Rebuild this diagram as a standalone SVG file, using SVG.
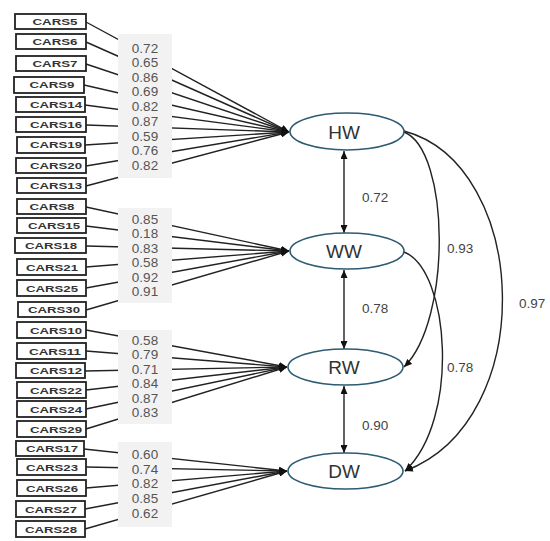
<svg xmlns="http://www.w3.org/2000/svg" width="550" height="541" viewBox="0 0 550 541">
<style>
.box{fill:#fff;stroke:#222;stroke-width:1.8}
.bt{font-family:"Liberation Sans",Arial,sans-serif;font-weight:bold;font-size:8.8px;fill:#333;text-anchor:middle}
.lp{fill:#f2f2f2;stroke:none}
.v{font-family:"Liberation Sans",Arial,sans-serif;font-size:13.5px;fill:#555;text-anchor:middle}
.c{font-family:"Liberation Sans",Arial,sans-serif;font-size:13.5px;fill:#444}
.ln{stroke:#222;stroke-width:1.4;fill:none}
.el{fill:#fff;stroke:#2d5b73;stroke-width:1.6}
.et{font-family:"Liberation Sans",Arial,sans-serif;font-size:19px;fill:#333;text-anchor:middle}
</style>
<defs>
<marker id="ah" markerUnits="userSpaceOnUse" markerWidth="8" markerHeight="7" refX="8" refY="3.5" orient="auto-start-reverse">
<path d="M0,0 L8,3.5 L0,7 z" fill="#111"/>
</marker>
</defs>
<rect width="550" height="541" fill="#fff"/>
<g id="connectors">
<g class="ln" marker-end="url(#ah)">
<line x1="86" y1="22" x2="289" y2="132"/>
<line x1="86" y1="42" x2="289" y2="132"/>
<line x1="86" y1="64" x2="289" y2="132"/>
<line x1="84" y1="85" x2="289" y2="132"/>
<line x1="85" y1="105" x2="289" y2="132"/>
<line x1="86" y1="125" x2="289" y2="132"/>
<line x1="85" y1="145" x2="289" y2="132"/>
<line x1="86" y1="166" x2="289" y2="132"/>
<line x1="86" y1="186" x2="289" y2="132"/>
<line x1="86" y1="207" x2="289" y2="251"/>
<line x1="86" y1="226" x2="289" y2="251"/>
<line x1="86" y1="246" x2="289" y2="251"/>
<line x1="86" y1="267" x2="289" y2="251"/>
<line x1="86" y1="288" x2="289" y2="251"/>
<line x1="86" y1="310" x2="289" y2="251"/>
<line x1="86" y1="330" x2="287" y2="367"/>
<line x1="86" y1="351" x2="287" y2="367"/>
<line x1="85" y1="371" x2="287" y2="367"/>
<line x1="86" y1="390" x2="287" y2="367"/>
<line x1="86" y1="409" x2="287" y2="367"/>
<line x1="86" y1="429" x2="287" y2="367"/>
<line x1="84" y1="449" x2="287" y2="471"/>
<line x1="86" y1="467" x2="287" y2="471"/>
<line x1="86" y1="488" x2="287" y2="471"/>
<line x1="85" y1="509" x2="287" y2="471"/>
<line x1="85" y1="529" x2="287" y2="471"/>
</g>
<g class="ln" marker-start="url(#ah)" marker-end="url(#ah)">
<line x1="344" y1="151" x2="344" y2="233"/>
<line x1="344" y1="270" x2="344" y2="349"/>
<line x1="344" y1="386" x2="344" y2="453"/>
</g>
<g class="ln" marker-end="url(#ah)">
<path d="M404,132 C450,150 452,320 404,367"/>
<path d="M404,252 C450,270 460,420 405,471"/>
<path d="M404,131 C530,165 540,420 405,471"/>
</g>
</g>
<g id="labels">
<rect class="lp" x="118" y="34" width="54" height="144"/>
<text class="v" x="145" y="53">0.72</text>
<text class="v" x="145" y="67">0.65</text>
<text class="v" x="145" y="82">0.86</text>
<text class="v" x="145" y="96">0.69</text>
<text class="v" x="145" y="111">0.82</text>
<text class="v" x="145" y="126">0.87</text>
<text class="v" x="145" y="141">0.59</text>
<text class="v" x="145" y="155">0.76</text>
<text class="v" x="145" y="170">0.82</text>
<rect class="lp" x="118" y="208" width="54" height="95"/>
<text class="v" x="145" y="224">0.85</text>
<text class="v" x="145" y="238">0.18</text>
<text class="v" x="145" y="253">0.83</text>
<text class="v" x="145" y="267">0.58</text>
<text class="v" x="145" y="282">0.92</text>
<text class="v" x="145" y="296">0.91</text>
<rect class="lp" x="118" y="330" width="54" height="94"/>
<text class="v" x="145" y="345">0.58</text>
<text class="v" x="145" y="359">0.79</text>
<text class="v" x="145" y="374">0.71</text>
<text class="v" x="145" y="388">0.84</text>
<text class="v" x="145" y="403">0.87</text>
<text class="v" x="145" y="417">0.83</text>
<rect class="lp" x="118" y="442" width="54" height="85"/>
<text class="v" x="145" y="459">0.60</text>
<text class="v" x="145" y="474">0.74</text>
<text class="v" x="145" y="488">0.82</text>
<text class="v" x="145" y="503">0.85</text>
<text class="v" x="145" y="518">0.62</text>
<text class="c" x="362" y="202">0.72</text>
<text class="c" x="362" y="313">0.78</text>
<text class="c" x="362" y="430">0.90</text>
<text class="c" x="447" y="253">0.93</text>
<text class="c" x="447" y="372">0.78</text>
<text class="c" x="519" y="308">0.97</text>
</g>
<g id="CARS5"><rect class="box" x="15" y="14" width="71" height="15"/><text class="bt" x="55" y="25" textLength="45" lengthAdjust="spacingAndGlyphs">CARS5</text></g>
<g id="CARS6"><rect class="box" x="16" y="34" width="70" height="15"/><text class="bt" x="55" y="45" textLength="45" lengthAdjust="spacingAndGlyphs">CARS6</text></g>
<g id="CARS7"><rect class="box" x="16" y="56" width="70" height="15"/><text class="bt" x="55" y="67" textLength="45" lengthAdjust="spacingAndGlyphs">CARS7</text></g>
<g id="CARS9"><rect class="box" x="14" y="77" width="70" height="16"/><text class="bt" x="52" y="88" textLength="45" lengthAdjust="spacingAndGlyphs">CARS9</text></g>
<g id="CARS14"><rect class="box" x="16" y="97" width="69" height="15"/><text class="bt" x="56" y="108" textLength="52" lengthAdjust="spacingAndGlyphs">CARS14</text></g>
<g id="CARS16"><rect class="box" x="16" y="117" width="70" height="15"/><text class="bt" x="56" y="128" textLength="52" lengthAdjust="spacingAndGlyphs">CARS16</text></g>
<g id="CARS19"><rect class="box" x="17" y="137" width="68" height="16"/><text class="bt" x="56" y="148" textLength="52" lengthAdjust="spacingAndGlyphs">CARS19</text></g>
<g id="CARS20"><rect class="box" x="16" y="158" width="70" height="15"/><text class="bt" x="56" y="169" textLength="52" lengthAdjust="spacingAndGlyphs">CARS20</text></g>
<g id="CARS13"><rect class="box" x="17" y="178" width="69" height="15"/><text class="bt" x="56" y="189" textLength="52" lengthAdjust="spacingAndGlyphs">CARS13</text></g>
<g id="CARS8"><rect class="box" x="17" y="199" width="69" height="15"/><text class="bt" x="52" y="210" textLength="45" lengthAdjust="spacingAndGlyphs">CARS8</text></g>
<g id="CARS15"><rect class="box" x="17" y="218" width="69" height="15"/><text class="bt" x="54" y="229" textLength="52" lengthAdjust="spacingAndGlyphs">CARS15</text></g>
<g id="CARS18"><rect class="box" x="15" y="238" width="71" height="15"/><text class="bt" x="51" y="249" textLength="52" lengthAdjust="spacingAndGlyphs">CARS18</text></g>
<g id="CARS21"><rect class="box" x="17" y="259" width="69" height="16"/><text class="bt" x="52" y="271" textLength="52" lengthAdjust="spacingAndGlyphs">CARS21</text></g>
<g id="CARS25"><rect class="box" x="17" y="280" width="69" height="16"/><text class="bt" x="52" y="292" textLength="52" lengthAdjust="spacingAndGlyphs">CARS25</text></g>
<g id="CARS30"><rect class="box" x="18" y="302" width="68" height="15"/><text class="bt" x="54" y="313" textLength="52" lengthAdjust="spacingAndGlyphs">CARS30</text></g>
<g id="CARS10"><rect class="box" x="17" y="322" width="69" height="16"/><text class="bt" x="56" y="334" textLength="52" lengthAdjust="spacingAndGlyphs">CARS10</text></g>
<g id="CARS11"><rect class="box" x="17" y="343" width="69" height="16"/><text class="bt" x="55" y="355" textLength="52" lengthAdjust="spacingAndGlyphs">CARS11</text></g>
<g id="CARS12"><rect class="box" x="16" y="363" width="69" height="15"/><text class="bt" x="56" y="374" textLength="52" lengthAdjust="spacingAndGlyphs">CARS12</text></g>
<g id="CARS22"><rect class="box" x="17" y="382" width="69" height="16"/><text class="bt" x="56" y="394" textLength="52" lengthAdjust="spacingAndGlyphs">CARS22</text></g>
<g id="CARS24"><rect class="box" x="17" y="401" width="69" height="16"/><text class="bt" x="56" y="413" textLength="52" lengthAdjust="spacingAndGlyphs">CARS24</text></g>
<g id="CARS29"><rect class="box" x="17" y="421" width="69" height="16"/><text class="bt" x="56" y="433" textLength="52" lengthAdjust="spacingAndGlyphs">CARS29</text></g>
<g id="CARS17"><rect class="box" x="16" y="441" width="68" height="15"/><text class="bt" x="52" y="452" textLength="52" lengthAdjust="spacingAndGlyphs">CARS17</text></g>
<g id="CARS23"><rect class="box" x="17" y="459" width="69" height="16"/><text class="bt" x="52" y="471" textLength="52" lengthAdjust="spacingAndGlyphs">CARS23</text></g>
<g id="CARS26"><rect class="box" x="17" y="480" width="69" height="16"/><text class="bt" x="52" y="492" textLength="52" lengthAdjust="spacingAndGlyphs">CARS26</text></g>
<g id="CARS27"><rect class="box" x="16" y="501" width="69" height="16"/><text class="bt" x="51" y="513" textLength="52" lengthAdjust="spacingAndGlyphs">CARS27</text></g>
<g id="CARS28"><rect class="box" x="16" y="521" width="69" height="16"/><text class="bt" x="51" y="533" textLength="52" lengthAdjust="spacingAndGlyphs">CARS28</text></g>
<g id="HW"><ellipse class="el" cx="347" cy="131.5" rx="57" ry="18.5"/><text class="et" x="344" y="138.5">HW</text></g>
<g id="WW"><ellipse class="el" cx="347" cy="251" rx="57" ry="18"/><text class="et" x="344" y="258">WW</text></g>
<g id="RW"><ellipse class="el" cx="345.5" cy="367" rx="57.5" ry="18"/><text class="et" x="344" y="374">RW</text></g>
<g id="DW"><ellipse class="el" cx="345.5" cy="471" rx="57.5" ry="18"/><text class="et" x="344" y="478">DW</text></g>
</svg>
